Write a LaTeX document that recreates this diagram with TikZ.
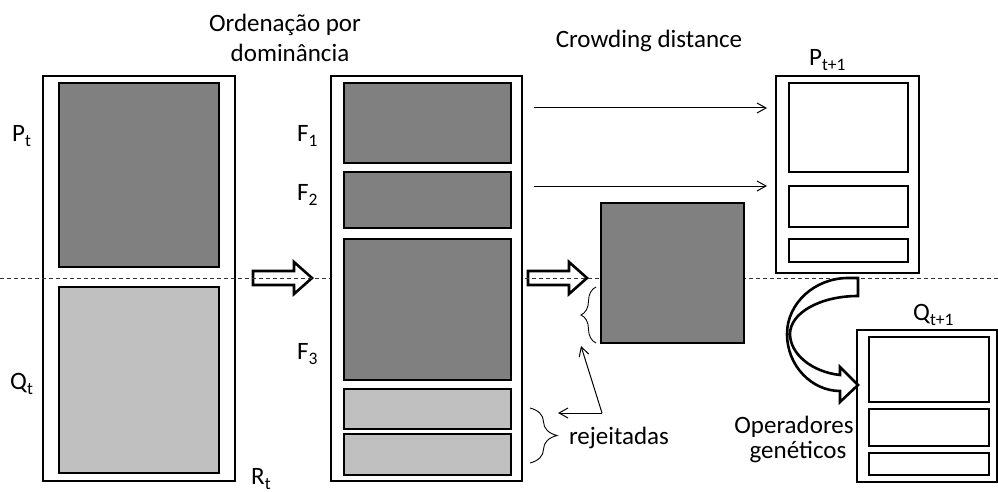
\documentclass[tikz,border=0pt]{standalone}
\usepackage{fontspec}
\setmainfont{Carlito}
\usetikzlibrary{arrows.meta,decorations.pathreplacing,fit}

% lowered, smaller index letter (P_t, F_1, ...)
\newcommand{\lowidx}[1]{\raisebox{-5pt}{\fontsize{17.5}{17.5}\selectfont #1}}

\definecolor{darkfill}{HTML}{808080}
\definecolor{lightfill}{HTML}{C0C0C0}

\begin{document}
\begin{tikzpicture}[x=1pt,y=-1pt,
  frame/.style={draw=black, line width=2.6pt, fill=white, inner sep=0pt},
  darkbox/.style={frame, fill=darkfill},
  lightbox/.style={frame, fill=lightfill},
  emptybox/.style={frame},
  lbl/.style={font=\fontsize{25}{30}\selectfont, inner sep=0pt},
  fatarrow/.style={draw=black, line width=2.6pt, fill=white, line join=miter},
  thinarrow/.style={draw=black, line width=1pt, -{Straight Barb[length=9pt,width=10pt]}},
  bracefig/.style={draw=black, line width=0.9pt, decorate,
    decoration={brace, amplitude=#1}},
  cutline/.style={draw=black!80, line width=0.9pt, dash pattern=on 4pt off 3pt}
]
\useasboundingbox (0,0) rectangle (998,492);

% population R_t = P_t + Q_t
\node[emptybox, fit={(43,76) (235,481)}] (R) {};
\node[darkbox, fit={(59,83) (219,267)}] (P) {};
\node[lightbox, fit={(59,287) (219,473)}] (Q) {};

% block arrows
\draw[fatarrow] (253,271) -- (294,271) -- (294,262) -- (312,278) -- (294,294)
  -- (294,285) -- (253,285) -- cycle;
\draw[fatarrow] (528,271) -- (569,271) -- (569,262) -- (587,278) -- (569,294)
  -- (569,285) -- (528,285) -- cycle;

% cut line
\draw[cutline] (0,278) -- (998,278);

% fronts after non-dominated sorting
\node[emptybox, fit={(331,76) (522,481)}] (M) {};
\node[darkbox, fit={(344,83) (511,163)}] (F1) {};
\node[darkbox, fit={(344,172) (511,228)}] (F2) {};
\node[darkbox, fit={(344,239) (511,380)}] (F3) {};
\node[lightbox, fit={(344,389) (511,429)}] (G1) {};
\node[lightbox, fit={(344,434) (511,475)}] (G2) {};

% F_3 sorted by crowding distance
\node[darkbox, fit={(601,203) (744,343)}] (C) {};

% next population P_{t+1}
\node[emptybox, fit={(776,76) (919,273)}] (N) {};
\node[emptybox, fit={(789,83) (908,172)}] (N1) {};
\node[emptybox, fit={(789,186) (908,227)}] (N2) {};
\node[emptybox, fit={(789,239) (908,262)}] (N3) {};

% offspring Q_{t+1}
\node[emptybox, fit={(857,330) (997,482)}] (O) {};
\node[emptybox, fit={(869,337) (989,402)}] (O1) {};
\node[emptybox, fit={(869,409) (989,446)}] (O2) {};
\node[emptybox, fit={(869,453) (989,475)}] (O3) {};

% curved block arrow (genetic operators)
\draw[fatarrow] (848,278) -- (858,278) -- (858,296)
  .. controls (820,296) and (790,313) .. (790,334)
  .. controls (790,354) and (812,372) .. (840,375)
  -- (840,367) -- (858,385) -- (840,402) -- (840,391)
  .. controls (812,391) and (787,366) .. (787,334)
  .. controls (787,303) and (815,278) .. (848,278) -- cycle;

% copies into P_{t+1}
\coordinate (s1) at (534,108);
\coordinate (e1) at (767,108);
\coordinate (s2) at (534,186);
\coordinate (e2) at (767,186);
\draw[thinarrow] (s1) -- (e1);
\draw[thinarrow] (s2) -- (e2);

% braces and the rejected-solutions pointer
\draw[bracefig=27pt] (530,408) -- (530,463);
\draw[bracefig=15pt] (596,343) -- (596,287);
\coordinate (v) at (602,413);
\coordinate (rjA) at (558,413);
\coordinate (rjB) at (581,346);
\draw[thinarrow] (v) -- (rjA);
\draw[thinarrow] (v) -- (rjB);

% labels
\node[lbl, anchor=base west] (lP) at (12,142) {P\lowidx{t}};
\node[lbl, anchor=base west] (lQ) at (10,389) {Q\lowidx{t}};
\node[lbl, anchor=base west] (lR) at (251,484) {R\lowidx{t}};
\node[lbl, anchor=base west] (lF1) at (297,142) {F\lowidx{1}};
\node[lbl, anchor=base west] (lF2) at (297,200) {F\lowidx{2}};
\node[lbl, anchor=base west] (lF3) at (297,359) {F\lowidx{3}};
\node[lbl, anchor=base] (lsortA) at (285,32) {Ordenação por};
\node[lbl, anchor=base] (lsortB) at (290,62) {dominância};
\node[lbl, anchor=base] (lcrowd) at (649,48) {Crowding distance};
\node[lbl, anchor=base west] (lN) at (809,66) {P\lowidx{t+1}};
\node[lbl, anchor=base west] (lO) at (913,320) {Q\lowidx{t+1}};
\node[lbl, anchor=base] (lrej) at (619,444) {rejeitadas};
\node[lbl, anchor=base] (lopsA) at (794,433) {Operadores};
\node[lbl, anchor=base] (lopsB) at (798,458) {genéticos};
\end{tikzpicture}
\end{document}
